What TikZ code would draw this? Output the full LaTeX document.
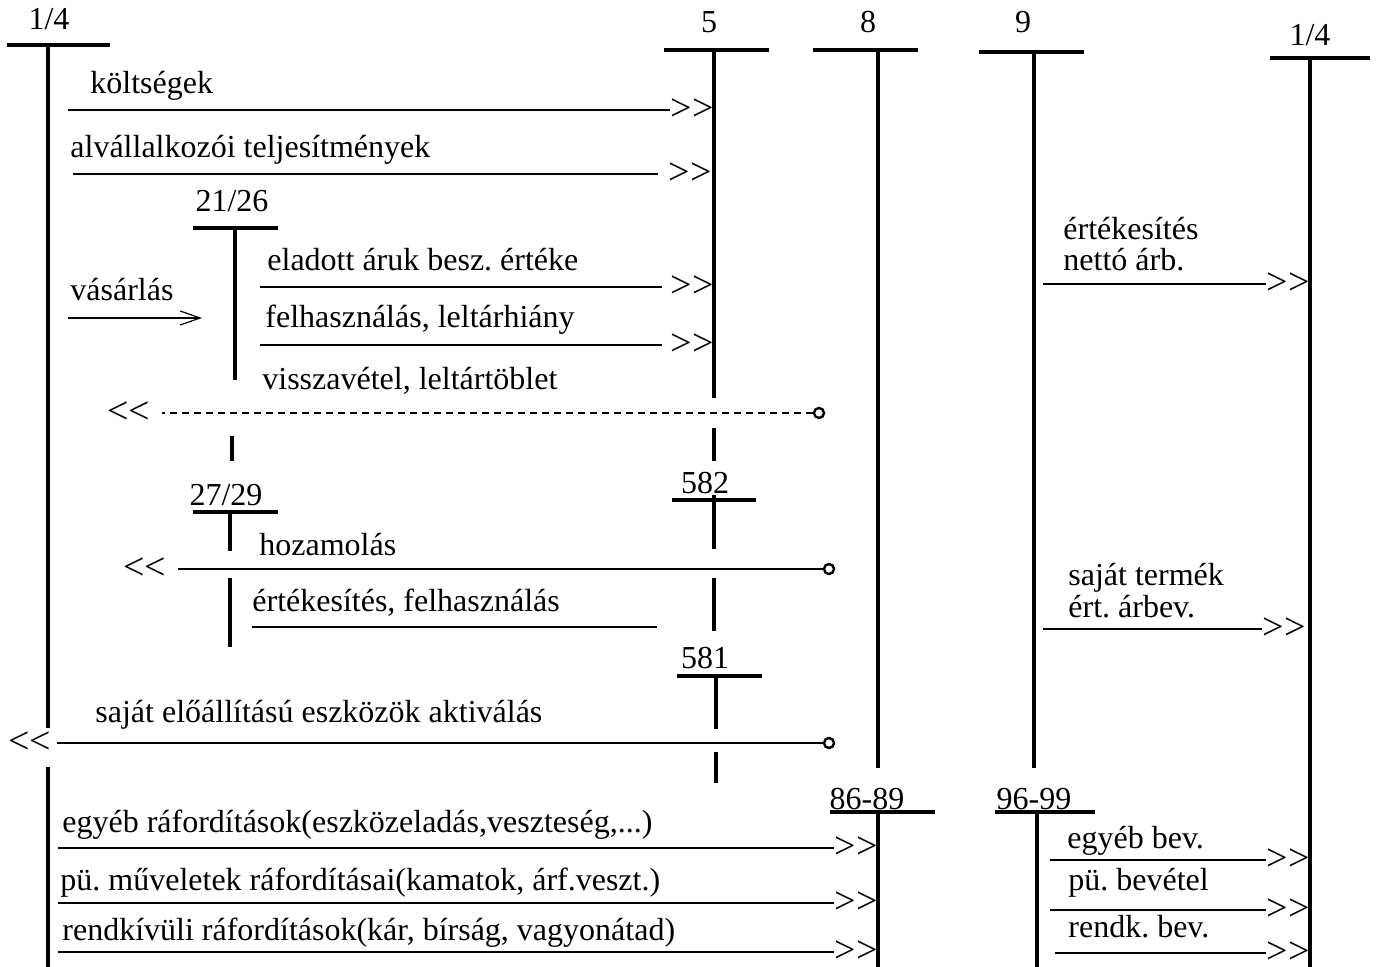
\documentclass[tikz,border=0pt]{standalone}
\usepackage{fontspec}
\setmainfont{Liberation Serif}
\frenchspacing
\usetikzlibrary{arrows.meta}
\tikzstyle{acct}=[line width=1.6pt]
\tikzstyle{flow}=[line width=1.4pt]
\tikzstyle{lbl}=[anchor=base west, inner sep=0pt]
\tikzstyle{tip}=[inner sep=0pt, font=\fontsize{19}{19}\selectfont]
\tikzstyle{ring}=[circle, draw, fill=white, line width=1.2pt, inner sep=0pt, minimum size=5pt]
\newcommand{\rtip}{>\kern0pt>}
\newcommand{\ltip}{<\kern0pt<}

\begin{document}
\begin{tikzpicture}[x=0.5pt, y=-0.5pt, font=\fontsize{16}{18}\selectfont]
\useasboundingbox (0,0) rectangle (1380,967);
% account heads
\foreach \nm/\lab/\lx/\ly/\xa/\xb/\by in {l14/{1/4}/49/30/7/110/45, k5/5/709/33/664/769/50,
  k8/8/868/33/813/918/50, k9/9/1023/33/979/1084/52, r14/{1/4}/1310/46/1270/1370/58,
  k21/{21/26}/232/212/193/278/228, k27/{27/29}/226/505/193/278/512,
  k582/582/705/494/672/756/500, k581/581/705/668/677/762/676,
  k86/86-89/867/809/830/935/812, k96/96-99/1034/809/995/1095/812} {
  \node[anchor=base, inner sep=0pt] (\nm) at (\lx,\ly) {\lab};
  \draw[acct] (\xa,\by) -- (\xb,\by);
}
\foreach \x/\ya/\yb in {48/45/728, 48/767/967, 714/50/398, 714/428/461, 878/50/768,
  1034/52/768, 1310/58/967, 235/228/380, 232/436/461, 230/512/551, 230/578/647,
  714/495/549, 714/578/631, 716/676/729, 716/752/783, 878/812/967, 1037/812/967} {
  \draw[acct] (\x,\ya) -- (\x,\yb);
}
% flows ending in >>
\foreach \i/\xs/\y/\vx/\g/\tx/\ty/\txt in {
  1/68/110/714/0/90/94/költségek,
  2/73/174/712/5/70/158/alvállalkozói teljesítmények,
  3/260/287/714/4/267/271/eladott áruk besz. értéke,
  4/260/345/714/4/265/328/{felhasználás, leltárhiány},
  5/1043/284/1310/0/1063/240/értékesítés,
  6/1043/629/1306/0/1068/585/saját termék,
  7/58/848/878/0/62/832/{egyéb ráfordítások(eszközeladás,veszteség,...)},
  8/58/903/878/0/60/890/{pü. műveletek ráfordításai(kamatok, árf.veszt.)},
  9/58/952/878/0/62/940/{rendkívüli ráfordítások(kár, bírság, vagyonátad)},
  10/1050/860/1310/0/1067/848/egyéb bev.,
  11/1050/910/1310/0/1068/890/pü. bevétel,
  12/1055/953/1310/0/1068/937/rendk. bev.} {
  \coordinate (s\i) at (\xs,\y);
  \node[tip, anchor=east] (h\i) at (\vx,\y) {\rtip};
  \draw[flow, shorten >=\g pt] (s\i) -- (h\i);
  \node[lbl] at (\tx,\ty) {\txt};
}
\node[lbl] at (1063,271) {nettó árb.};
\node[lbl] at (1068,617) {ért. árbev.};
% purchase into 21/26
\coordinate (v0) at (68,318);
\coordinate (v1) at (202,318);
\draw[flow, -{Straight Barb[length=10pt,width=7pt,line width=0.6pt]}] (v0) -- (v1);
\node[lbl] at (70,301) {vásárlás};
% flows ending in <<
\node[ring] (r1) at (819,413) {};
\node[tip, anchor=west] (t1) at (107,413) {\ltip};
\draw[line width=0.75pt, dash pattern=on 3.5pt off 2.5pt, shorten >=5.5pt] (r1) -- (t1);
\node[lbl] at (262,390) {visszavétel, leltártöblet};
\node[ring] (r2) at (829,569) {};
\node[tip, anchor=west] (t2) at (123,569) {\ltip};
\draw[flow, shorten >=5.5pt] (r2) -- (t2);
\node[lbl] at (259,555) {hozamolás};
\node[ring] (r3) at (829,743) {};
\node[tip, anchor=west] (t3) at (8,743) {\ltip};
\draw[flow, shorten >=2.5pt] (r3) -- (t3);
\node[lbl] at (95,722) {saját előállítású eszközök aktiválás};
% out of 27/29
\coordinate (e0) at (252,627);
\coordinate (e1) at (657,627);
\draw[flow] (e0) -- (e1);
\node[lbl] at (252,611) {értékesítés, felhasználás};
\end{tikzpicture}
\end{document}
